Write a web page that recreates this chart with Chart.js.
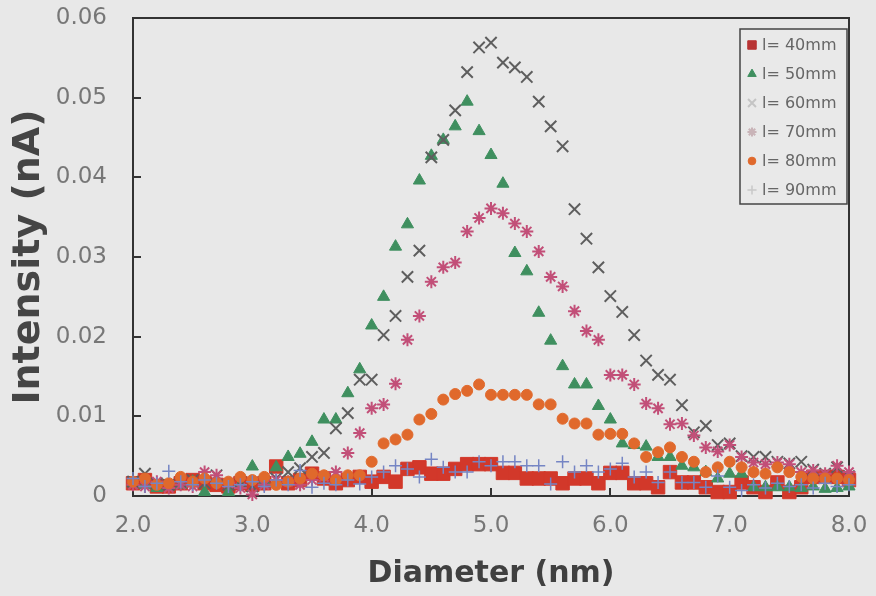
<!DOCTYPE html>
<html lang="en">
<head>
  <meta charset="UTF-8">
  <title>Intensity vs Diameter</title>
  <style>
    body {
      margin: 0;
      padding: 0;
      background-color: #e8e8e8;
    }
    .chart-box {
      width: 876px;
      height: 596px;
    }
  </style>
</head>
<body>
  <div class="chart-box">
    <canvas id="sizeChart"></canvas>
  </div>

  <script src="https://cdn.jsdelivr.net/npm/chart.js"></script>
  <script>
    // Diameter (nm) for every measured point
    const diameters = [
      2.0, 2.1, 2.2, 2.3, 2.4, 2.5, 2.6, 2.7, 2.8, 2.9,
      3.0, 3.1, 3.2, 3.3, 3.4, 3.5, 3.6, 3.7, 3.8, 3.9,
      4.0, 4.1, 4.2, 4.3, 4.4, 4.5, 4.6, 4.7, 4.8, 4.9,
      5.0, 5.1, 5.2, 5.3, 5.4, 5.5, 5.6, 5.7, 5.8, 5.9,
      6.0, 6.1, 6.2, 6.3, 6.4, 6.5, 6.6, 6.7, 6.8, 6.9,
      7.0, 7.1, 7.2, 7.3, 7.4, 7.5, 7.6, 7.7, 7.8, 7.9,
      8.0
    ];

    // Intensity (nA) for each distance
    const l40 = [
      0.0016, 0.0020, 0.0012, 0.0012, 0.0016, 0.0020, 0.0016, 0.0014, 0.0012, 0.0016,
      0.0014, 0.0016, 0.0037, 0.0016, 0.0020, 0.0028, 0.0022, 0.0016, 0.0020, 0.0024,
      0.0018, 0.0024, 0.0018, 0.0034, 0.0036, 0.0028, 0.0028, 0.0034, 0.0040, 0.0040,
      0.0040, 0.0029, 0.0029, 0.0022, 0.0022, 0.0022, 0.0016, 0.0022, 0.0022, 0.0016,
      0.0029, 0.0029, 0.0016, 0.0016, 0.0011, 0.0030, 0.0017, 0.0017, 0.0011, 0.0005,
      0.0005, 0.0017, 0.0011, 0.0005, 0.0017, 0.0005, 0.0011, 0.0024, 0.0024, 0.0024,
      0.0020
    ];
    const l50 = [
      0.0016, 0.0014, 0.0010, 0.0012, 0.0014, 0.0018, 0.0005, 0.0020, 0.0005, 0.0014,
      0.0037, 0.0018, 0.0036, 0.0049, 0.0053, 0.0068, 0.0096, 0.0096, 0.0129, 0.0159,
      0.0214, 0.0250, 0.0313, 0.0341, 0.0396, 0.0427, 0.0447, 0.0464, 0.0495, 0.0458,
      0.0428, 0.0392, 0.0305, 0.0282, 0.0230, 0.0195, 0.0163, 0.0140, 0.0140, 0.0113,
      0.0096, 0.0066, 0.0064, 0.0062, 0.0049, 0.0049, 0.0038, 0.0036, 0.0030, 0.0022,
      0.0028, 0.0028, 0.0011, 0.0011, 0.0011, 0.0011, 0.0010, 0.0012, 0.0009, 0.0010,
      0.0012
    ];
    const l60 = [
      0.0018, 0.0028, 0.0016, 0.0014, 0.0018, 0.0020, 0.0016, 0.0026, 0.0014, 0.0018,
      0.0012, 0.0018, 0.0022, 0.0030, 0.0035, 0.0049, 0.0054, 0.0085, 0.0104, 0.0146,
      0.0146, 0.0202, 0.0226, 0.0275, 0.0308, 0.0425, 0.0447, 0.0484, 0.0532, 0.0563,
      0.0569, 0.0544, 0.0538, 0.0526, 0.0495, 0.0464, 0.0439, 0.0360, 0.0323, 0.0287,
      0.0251, 0.0231, 0.0202, 0.0170, 0.0152, 0.0146, 0.0114, 0.0080, 0.0088, 0.0064,
      0.0066, 0.0050, 0.0049, 0.0049, 0.0043, 0.0041, 0.0043, 0.0033, 0.0028, 0.0036,
      0.0025
    ];
    const l70 = [
      0.0014, 0.0012, 0.0018, 0.0010, 0.0014, 0.0012, 0.0030, 0.0026, 0.0016, 0.0010,
      0.0002, 0.0014, 0.0020, 0.0018, 0.0014, 0.0020, 0.0024, 0.0030, 0.0054, 0.0079,
      0.0110, 0.0115, 0.0141, 0.0196, 0.0226, 0.0269, 0.0287, 0.0293, 0.0332, 0.0349,
      0.0361, 0.0355, 0.0342, 0.0332, 0.0307, 0.0275, 0.0263, 0.0232, 0.0207, 0.0196,
      0.0152, 0.0152, 0.0140, 0.0116, 0.0110, 0.0090, 0.0091, 0.0076, 0.0061, 0.0056,
      0.0064, 0.0049, 0.0042, 0.0040, 0.0042, 0.0040, 0.0030, 0.0032, 0.0028, 0.0038,
      0.0030
    ];
    const l80 = [
      0.0018, 0.0022, 0.0014, 0.0016, 0.0024, 0.0018, 0.0022, 0.0016, 0.0018, 0.0024,
      0.0020, 0.0024, 0.0014, 0.0018, 0.0022, 0.0028, 0.0026, 0.0020, 0.0026, 0.0026,
      0.0043, 0.0066, 0.0071, 0.0077, 0.0096, 0.0103, 0.0121, 0.0128, 0.0132, 0.0140,
      0.0127, 0.0127, 0.0127, 0.0127, 0.0115, 0.0115, 0.0097, 0.0091, 0.0091, 0.0077,
      0.0078, 0.0078, 0.0066, 0.0049, 0.0055, 0.0061, 0.0049, 0.0043, 0.0030, 0.0036,
      0.0043, 0.0036, 0.0030, 0.0028, 0.0036, 0.0030, 0.0024, 0.0022, 0.0022, 0.0022,
      0.0020
    ];
    const l90 = [
      0.0022, 0.0012, 0.0016, 0.0031, 0.0018, 0.0014, 0.0020, 0.0016, 0.0012, 0.0014,
      0.0018, 0.0012, 0.0020, 0.0014, 0.0032, 0.0011, 0.0016, 0.0014, 0.0020, 0.0015,
      0.0024, 0.0030, 0.0038, 0.0034, 0.0024, 0.0046, 0.0036, 0.0030, 0.0030, 0.0043,
      0.0038, 0.0043, 0.0043, 0.0038, 0.0038, 0.0015, 0.0043, 0.0030, 0.0038, 0.0030,
      0.0034, 0.0041, 0.0024, 0.0030, 0.0017, 0.0030, 0.0017, 0.0017, 0.0011, 0.0025,
      0.0011, 0.0007, 0.0014, 0.0010, 0.0016, 0.0012, 0.0014, 0.0010, 0.0016, 0.0012,
      0.0014
    ];

    const seriesLabels = ['l= 40mm', 'l= 50mm', 'l= 60mm', 'l= 70mm', 'l= 80mm', 'l= 90mm'];
    const xTicks = [2, 3, 4, 5, 6, 7, 8];
    const yTicks = [0, 0.01, 0.02, 0.03, 0.04, 0.05, 0.06];

    const allSeries = [l40, l50, l60, l70, l80, l90];
    const styles = [
      { shape: 'rect', color: '#d2382a', radius: 9.5, width: 1, legendColor: '#b83434' },
      { shape: 'triangle', color: '#3f8f5f', radius: 7, width: 1, legendColor: '#3f8f5f' },
      { shape: 'crossRot', color: '#5e5e5e', radius: 8, width: 2, legendColor: '#c4c4c4' },
      { shape: 'star', color: '#c24f78', radius: 6.5, width: 2, legendColor: '#c9b4b8' },
      { shape: 'circle', color: '#e0692c', radius: 5.5, width: 1, legendColor: '#e0692c' },
      { shape: 'cross', color: '#7585c4', radius: 6.5, width: 1.5, legendColor: '#c8c8c8' }
    ];

    const datasets = allSeries.map((vals, i) => ({
      label: seriesLabels[i],
      data: vals.map((v, j) => ({ x: diameters[j], y: v })),
      pointStyle: styles[i].shape,
      pointRadius: styles[i].radius,
      pointBorderWidth: styles[i].width,
      backgroundColor: styles[i].color,
      borderColor: styles[i].color,
      showLine: false,
      clip: false,
      order: 6 - i
    }));

    // frame round the plot and short inward tick marks
    const frame = {
      id: 'frame',
      beforeDatasetsDraw(chart) {
        const { ctx, chartArea: a, scales: { x, y } } = chart;
        ctx.save();
        ctx.strokeStyle = '#333';
        ctx.lineWidth = 2;
        ctx.strokeRect(a.left, a.top, a.right - a.left, a.bottom - a.top);
        ctx.beginPath();
        yTicks.slice(1, -1).forEach(v => {
          const py = Math.round(y.getPixelForValue(v));
          ctx.moveTo(a.left, py);
          ctx.lineTo(a.left + 8, py);
        });
        xTicks.slice(1, -1).forEach(v => {
          const px = Math.round(x.getPixelForValue(v));
          ctx.moveTo(px, a.bottom);
          ctx.lineTo(px, a.bottom - 8);
        });
        ctx.stroke();
        ctx.restore();
      }
    };

    // boxed legend in the top right corner of the plot
    const boxLegend = {
      id: 'boxLegend',
      afterDatasetsDraw(chart) {
        const { ctx, chartArea: a } = chart;
        const left = a.right - 109, top = a.top + 11;
        ctx.save();
        ctx.fillStyle = '#e9e9e9';
        ctx.fillRect(left, top, 107, 175);
        ctx.strokeStyle = '#444';
        ctx.lineWidth = 1.5;
        ctx.strokeRect(left, top, 107, 175);
        ctx.font = '16px "DejaVu Sans"';
        ctx.textBaseline = 'middle';
        seriesLabels.forEach((lab, i) => {
          const cy = top + 16 + i * 29;
          const st = styles[i];
          ctx.fillStyle = st.legendColor;
          ctx.strokeStyle = st.legendColor;
          ctx.lineWidth = st.width;
          const r = st.shape === 'rect' ? 6 : st.radius * 0.7;
          Chart.helpers.drawPoint(ctx, { pointStyle: st.shape, radius: r, borderWidth: st.width }, left + 12, cy);
          ctx.fillStyle = '#666';
          ctx.fillText(lab, left + 22, cy + 1);
        });
        ctx.restore();
      }
    };

    new Chart(document.getElementById('sizeChart'), {
      type: 'scatter',
      data: { datasets: datasets },
      plugins: [frame, boxLegend],
      options: {
        responsive: true,
        maintainAspectRatio: false,
        animation: false,
        layout: { padding: { top: 18, right: 27, left: 0, bottom: 0 } },
        plugins: {
          legend: { display: false },
          tooltip: { enabled: false }
        },
        scales: {
          x: {
            type: 'linear',
            min: 2,
            max: 8,
            afterFit: s => { s.height = 100; s.paddingLeft = 0; s.paddingRight = 0; },
            afterBuildTicks: s => { s.ticks = xTicks.map(v => ({ value: v })); },
            grid: { display: false, drawTicks: false },
            border: { display: false },
            ticks: {
              padding: 16,
              color: '#777',
              font: { family: 'DejaVu Sans', size: 23 },
              callback: v => v.toFixed(1)
            },
            title: {
              display: true,
              text: 'Diameter (nm)',
              color: '#404040',
              font: { family: 'DejaVu Sans', size: 30, weight: 'bold' },
              padding: { top: 0, bottom: 4 }
            }
          },
          y: {
            min: 0,
            max: 0.06,
            afterFit: s => { s.width = 133; s.paddingTop = 0; s.paddingBottom = 0; },
            afterBuildTicks: s => { s.ticks = yTicks.map(v => ({ value: v })); },
            grid: { display: false, drawTicks: false },
            border: { display: false },
            ticks: {
              padding: 26,
              color: '#777',
              font: { family: 'DejaVu Sans', size: 23 },
              callback: v => v === 0 ? '0' : v.toFixed(2)
            },
            title: {
              display: true,
              text: 'Intensity (nA)',
              color: '#454545',
              font: { family: 'DejaVu Sans', size: 38, weight: 'bold' },
              padding: { top: 6, bottom: 0 }
            }
          }
        }
      }
    });
  </script>
</body>
</html>
